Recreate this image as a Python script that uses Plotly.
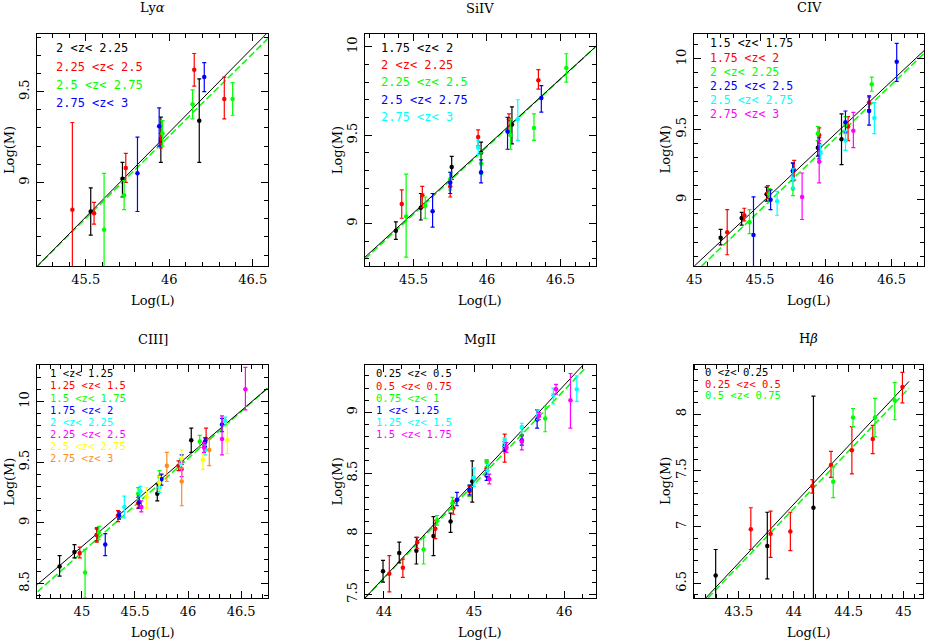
import plotly.graph_objects as go

W, H = 926, 642

BLACK = "#000000"
RED = "#ff0000"
GREEN = "#00ff00"
BLUE = "#0000ff"
CYAN = "#00ffff"
MAGENTA = "#ff00ff"
YELLOW = "#ffff00"
ORANGE = "#ff8c1a"

# ---------------- Ly alpha ----------------
LYA_BINS = ["2 <z< 2.25", "2.25 <z< 2.5", "2.5 <z< 2.75", "2.75 <z< 3"]
LYA_X = [[45.53, 45.72, 45.95, 46.18],
         [45.42, 45.55, 45.74, 45.95, 46.15, 46.33],
         [45.61, 45.73, 45.96, 46.14, 46.38],
         [45.81, 45.94, 46.21]]
LYA_Y = [[8.84, 9.02, 9.23, 9.34],
         [8.85, 8.83, 9.08, 9.24, 9.62, 9.46],
         [8.74, 8.93, 9.27, 9.43, 9.46],
         [9.05, 9.31, 9.58]]
LYA_HI = [[8.97, 9.11, 9.36, 9.57],
          [9.33, 8.89, 9.16, 9.27, 9.71, 9.58],
          [9.05, 9.01, 9.34, 9.51, 9.55],
          [9.25, 9.41, 9.66]]
LYA_LO = [[8.71, 8.92, 9.11, 9.11],
          [8.45, 8.77, 9.00, 9.19, 9.53, 9.35],
          [8.45, 8.85, 9.20, 9.35, 9.37],
          [8.84, 9.20, 9.50]]
LYA_FIT_X = [45.2, 46.6]
LYA_FIT_Y = [8.53, 9.835]
LYA_FIT2_Y = [8.53, 9.80]

# ---------------- SiIV ----------------
SIIV_BINS = ["1.75 <z< 2", "2 <z< 2.25", "2.25 <z< 2.5", "2.5 <z< 2.75", "2.75 <z< 3"]
SIIV_X = [[45.38, 45.55, 45.76, 45.96, 46.17],
          [45.42, 45.56, 45.75, 45.94, 46.15, 46.35],
          [45.45, 45.58, 45.75, 45.96, 46.16, 46.32, 46.54],
          [45.63, 45.75, 45.96, 46.14, 46.37],
          [45.94, 46.21]]
SIIV_Y = [[8.96, 9.09, 9.32, 9.40, 9.56],
          [9.11, 9.16, 9.21, 9.49, 9.59, 9.81],
          [9.04, 9.10, 9.25, 9.34, 9.50, 9.54, 9.88],
          [9.07, 9.23, 9.29, 9.52, 9.71],
          [9.43, 9.59]]
SIIV_HI = [[9.01, 9.17, 9.38, 9.46, 9.66],
           [9.19, 9.21, 9.24, 9.53, 9.62, 9.87],
           [9.28, 9.15, 9.29, 9.40, 9.59, 9.62, 9.96],
           [9.17, 9.29, 9.36, 9.60, 9.78],
           [9.47, 9.70]]
SIIV_LO = [[8.91, 9.02, 9.25, 9.34, 9.45],
           [9.03, 9.09, 9.15, 9.44, 9.51, 9.76],
           [8.81, 9.03, 9.19, 9.28, 9.42, 9.47, 9.80],
           [8.98, 9.17, 9.23, 9.42, 9.63],
           [9.39, 9.47]]
SIIV_FIT_X = [45.17, 46.74]
SIIV_FIT_Y = [8.81, 10.0]
SIIV_FIT2_Y = [8.80, 10.0]

# ---------------- CIV ----------------
CIV_BINS = ["1.5 <z< 1.75", "1.75 <z< 2", "2 <z< 2.25", "2.25 <z< 2.5",
            "2.5 <z< 2.75", "2.75 <z< 3"]
CIV_X = [[45.20, 45.36, 45.55, 45.75, 45.94, 46.12],
         [45.25, 45.38, 45.56, 45.76, 45.95, 46.17, 46.33],
         [45.42, 45.57, 45.75, 45.94, 46.15, 46.35],
         [45.45, 45.58, 45.75, 45.95, 46.15, 46.33, 46.54],
         [45.63, 45.75, 45.96, 46.15, 46.37],
         [45.82, 45.95, 46.21]]
CIV_Y = [[8.73, 8.87, 9.04, 9.20, 9.37, 9.43],
         [8.77, 8.89, 9.05, 9.21, 9.46, 9.52, 9.69],
         [8.84, 9.04, 9.08, 9.47, 9.53, 9.82],
         [8.75, 9.00, 9.21, 9.37, 9.55, 9.63, 9.98],
         [8.99, 9.15, 9.33, 9.42, 9.58],
         [9.02, 9.27, 9.49]]
CIV_HI = [[8.79, 8.91, 9.09, 9.26, 9.42, 9.61],
          [8.93, 8.94, 9.10, 9.28, 9.51, 9.59, 9.74],
          [8.93, 9.08, 9.13, 9.52, 9.59, 9.87],
          [9.02, 9.07, 9.26, 9.44, 9.63, 9.73, 10.11],
          [9.06, 9.22, 9.39, 9.49, 9.69],
          [9.19, 9.42, 9.62]]
CIV_LO = [[8.68, 8.82, 8.99, 9.14, 9.31, 9.25],
          [8.61, 8.85, 9.01, 9.14, 9.40, 9.42, 9.64],
          [8.76, 8.99, 9.03, 9.42, 9.47, 9.77],
          [8.45, 8.93, 9.16, 9.29, 9.48, 9.53, 9.84],
          [8.89, 9.08, 9.27, 9.35, 9.47],
          [8.86, 9.12, 9.37]]
CIV_FIT_X = [45.0, 46.75]
CIV_FIT_Y = [8.53, 10.06]
CIV_FIT2_Y = [8.48, 10.04]

# ---------------- CIII] ----------------
CIII_BINS = ["1 <z< 1.25", "1.25 <z< 1.5", "1.5 <z< 1.75", "1.75 <z< 2",
             "2 <z< 2.25", "2.25 <z< 2.5", "2.5 <z< 2.75", "2.75 <z< 3"]
CIII_X = [[44.79, 44.93, 45.14, 45.71, 46.03],
          [44.98, 45.14, 45.34, 45.53, 45.91, 46.17],
          [45.03, 45.16, 45.53, 45.73, 46.11],
          [45.22, 45.35, 45.54, 45.75, 45.94, 46.16, 46.32],
          [45.40, 45.55, 45.73, 45.93, 46.16, 46.35],
          [45.56, 45.94, 46.15, 46.32, 46.54],
          [45.61, 45.73, 45.94, 46.14, 46.37],
          [45.80, 45.94, 46.20]]
CIII_Y = [[8.64, 8.76, 8.90, 9.24, 9.68],
          [8.75, 8.90, 9.06, 9.16, 9.47, 9.69],
          [8.59, 8.92, 9.24, 9.38, 9.67],
          [8.82, 9.06, 9.17, 9.36, 9.52, 9.67, 9.81],
          [9.13, 9.26, 9.29, 9.49, 9.60, 9.84],
          [9.13, 9.44, 9.62, 9.69, 10.10],
          [9.21, 9.33, 9.53, 9.52, 9.68],
          [9.47, 9.34, 9.60]]
CIII_HI = [[8.73, 8.82, 8.95, 9.32, 9.78],
           [8.80, 8.96, 9.10, 9.21, 9.51, 9.78],
           [8.78, 8.97, 9.29, 9.43, 9.72],
           [8.91, 9.09, 9.22, 9.40, 9.56, 9.70, 9.86],
           [9.22, 9.30, 9.33, 9.53, 9.64, 9.87],
           [9.18, 9.50, 9.66, 9.88, 10.28],
           [9.29, 9.38, 9.60, 9.57, 9.82],
           [9.58, 9.45, 9.69]]
CIII_LO = [[8.56, 8.71, 8.85, 9.18, 9.58],
           [8.71, 8.84, 9.01, 9.12, 9.43, 9.60],
           [8.38, 8.86, 9.19, 9.34, 9.62],
           [8.73, 9.03, 9.12, 9.31, 9.48, 9.63, 9.75],
           [9.04, 9.22, 9.25, 9.45, 9.56, 9.80],
           [9.09, 9.38, 9.58, 9.56, 9.93],
           [9.12, 9.27, 9.47, 9.44, 9.57],
           [9.34, 9.14, 9.47]]
CIII_FIT_X = [44.58, 46.75]
CIII_FIT_Y = [8.49, 10.11]
CIII_FIT2_Y = [8.43, 10.11]

# ---------------- MgII ----------------
MGII_BINS = ["0.25 <z< 0.5", "0.5 <z< 0.75", "0.75 <z< 1", "1 <z< 1.25",
             "1.25 <z< 1.5", "1.5 <z< 1.75"]
MGII_X = [[43.99, 44.17, 44.36, 44.55, 44.74, 44.98],
          [44.06, 44.21, 44.37, 44.57, 44.77, 44.95, 45.14, 45.34],
          [44.44, 44.59, 44.76, 44.95, 45.14, 45.34, 45.53, 45.79],
          [44.81, 44.95, 45.14, 45.34, 45.53, 45.70],
          [45.00, 45.15, 45.34, 45.53, 45.71, 45.88, 46.14],
          [45.17, 45.36, 45.53, 45.72, 45.91, 46.07]]
MGII_Y = [[7.69, 7.84, 7.86, 7.98, 8.10, 8.43],
          [7.67, 7.72, 7.93, 8.04, 8.21, 8.35, 8.54, 8.70],
          [7.87, 8.11, 8.25, 8.36, 8.59, 8.74, 8.81, 8.95],
          [8.28, 8.36, 8.48, 8.72, 8.77, 8.94],
          [8.46, 8.52, 8.76, 8.88, 8.98, 9.14, 9.19],
          [8.45, 8.71, 8.76, 8.97, 9.19, 9.10]]
MGII_HI = [[7.78, 7.93, 7.97, 8.14, 8.17, 8.60],
           [7.82, 7.79, 7.97, 8.11, 8.27, 8.39, 8.60, 8.82],
           [7.97, 8.15, 8.30, 8.40, 8.61, 8.78, 8.87, 9.05],
           [8.34, 8.40, 8.52, 8.76, 8.81, 9.02],
           [8.54, 8.57, 8.79, 8.91, 9.02, 9.20, 9.30],
           [8.49, 8.75, 8.81, 9.00, 9.23, 9.32]]
MGII_LO = [[7.60, 7.76, 7.75, 7.82, 8.01, 8.26],
           [7.52, 7.64, 7.88, 7.96, 8.16, 8.31, 8.47, 8.59],
           [7.75, 8.07, 8.20, 8.31, 8.55, 8.70, 8.75, 8.84],
           [8.23, 8.32, 8.44, 8.68, 8.73, 8.87],
           [8.39, 8.48, 8.72, 8.84, 8.94, 9.07, 9.09],
           [8.41, 8.67, 8.69, 8.94, 9.15, 8.87]]
MGII_FIT_X = [43.79, 46.21]
MGII_FIT_Y = [7.47, 9.39]
MGII_FIT2_X = [43.79, 46.23]
MGII_FIT2_Y = [7.47, 9.36]

# ---------------- H beta ----------------
HB_BINS = ["0 <z< 0.25", "0.25 <z< 0.5", "0.5 <z< 0.75"]
HB_X = [[43.29, 43.76, 44.18],
        [43.61, 43.79, 43.97, 44.17, 44.34, 44.53, 44.72, 44.99],
        [44.36, 44.54, 44.74, 44.92]]
HB_Y = [[6.57, 6.83, 7.17],
        [6.98, 6.94, 6.96, 7.36, 7.55, 7.68, 7.78, 8.24],
        [7.40, 7.97, 7.97, 8.12]]
HB_HI = [[6.80, 7.13, 8.16],
         [7.17, 7.14, 7.13, 7.42, 7.67, 7.89, 7.90, 8.37],
         [7.53, 8.05, 8.14, 8.28]]
HB_LO = [[6.33, 6.54, 6.20],
         [6.80, 6.73, 6.79, 7.30, 7.44, 7.47, 7.65, 8.10],
         [7.26, 7.89, 7.80, 7.95]]
HB_FIT_X = [43.2, 45.05]
HB_FIT_Y = [6.37, 8.29]
HB_FIT2_X = [43.22, 45.05]
HB_FIT2_Y = [6.37, 8.23]

COLORS = [BLACK, RED, GREEN, BLUE, CYAN, MAGENTA, YELLOW, ORANGE]


def px(x):
    # window pixel -> paper fraction
    return x / W


def py(y):
    return 1 - y / H


# frame boxes in pixels (left, right, top, bottom); leg = (x, first line y, line step, font size)
panels = [
    dict(title="Ly<i>α</i>", box=(37.3, 267.7, 33.5, 266), xr=[45.21, 46.59], yr=[8.54, 9.82],
         xd=0.5, xm=0.1, bins=LYA_BINS, x=LYA_X, y=LYA_Y, hi=LYA_HI, lo=LYA_LO,
         fx=LYA_FIT_X, fy=LYA_FIT_Y, gx=LYA_FIT_X, gy=LYA_FIT2_Y, leg=(55, 48.3, 18.3, 12)),
    dict(title="SiIV", box=(365, 595.7, 34.3, 266), xr=[45.17, 46.74], yr=[8.76, 10.07],
         xd=0.5, xm=0.1, bins=SIIV_BINS, x=SIIV_X, y=SIIV_Y, hi=SIIV_HI, lo=SIIV_LO,
         fx=SIIV_FIT_X, fy=SIIV_FIT_Y, gx=SIIV_FIT_X, gy=SIIV_FIT2_Y, leg=(380, 47.7, 17.4, 12)),
    dict(title="CIV", box=(693.7, 924.3, 33.5, 266), xr=[44.995, 46.75], yr=[8.53, 10.18],
         xd=0.5, xm=0.1, bins=CIV_BINS, x=CIV_X, y=CIV_Y, hi=CIV_HI, lo=CIV_LO,
         fx=CIV_FIT_X, fy=CIV_FIT_Y, gx=CIV_FIT_X, gy=CIV_FIT2_Y, leg=(708.7, 43.3, 14.2, 11.5)),
    dict(title="CIII]", box=(37.3, 267.7, 365, 598), xr=[44.58, 46.75], yr=[8.38, 10.30],
         xd=0.5, xm=0.1, bins=CIII_BINS, x=CIII_X, y=CIII_Y, hi=CIII_HI, lo=CIII_LO,
         fx=CIII_FIT_X, fy=CIII_FIT_Y, gx=CIII_FIT_X, gy=CIII_FIT2_Y, leg=(49.3, 373.3, 12.1, 10.5)),
    dict(title="MgII", box=(365, 595.7, 365, 598), xr=[43.79, 46.35], yr=[7.47, 9.39],
         xd=1, xm=0.2, bins=MGII_BINS, x=MGII_X, y=MGII_Y, hi=MGII_HI, lo=MGII_LO,
         fx=MGII_FIT_X, fy=MGII_FIT_Y, gx=MGII_FIT2_X, gy=MGII_FIT2_Y, leg=(375, 373.3, 12.2, 10.5)),
    dict(title="H<i>β</i>", box=(693.7, 923.3, 364.5, 598), xr=[43.09, 45.18], yr=[6.37, 8.44],
         xd=0.5, xm=0.1, bins=HB_BINS, x=HB_X, y=HB_Y, hi=HB_HI, lo=HB_LO,
         fx=HB_FIT_X, fy=HB_FIT_Y, gx=HB_FIT2_X, gy=HB_FIT2_Y, leg=(704.3, 372.3, 11.3, 10.5)),
]

fig = go.Figure()
annotations = []
layout = {}
serif = "DejaVu Serif"
mono = "DejaVu Sans Mono"

for i, p in enumerate(panels, start=1):
    sfx = "" if i == 1 else str(i)
    xa, ya = "x" + sfx, "y" + sfx
    l, r, t, b = p["box"]

    axis_common = dict(
        showline=True, linecolor="black", linewidth=1, mirror="allticks",
        ticks="inside", ticklen=7, tickcolor="black", tickwidth=1,
        showgrid=False, zeroline=False, automargin=False,
        tickfont=dict(family=serif, size=13, color="black"),
    )
    layout["xaxis" + sfx] = dict(
        axis_common, domain=[px(l), px(r)], range=p["xr"], anchor=ya, dtick=p["xd"],
        minor=dict(ticks="inside", ticklen=4, dtick=p["xm"], tickcolor="black"),
        ticklabelstandoff=1,
    )
    layout["yaxis" + sfx] = dict(
        axis_common, domain=[py(b), py(t)], range=p["yr"], anchor=xa, dtick=0.5,
        minor=dict(ticks="inside", ticklen=4, dtick=0.1, tickcolor="black"),
        tickangle=-90, ticklabelstandoff=2,
    )

    # fitted relations
    fig.add_trace(go.Scatter(
        x=p["gx"], y=p["gy"], mode="lines", xaxis=xa, yaxis=ya,
        line=dict(color=GREEN, width=1.5, dash="7px,3px"), showlegend=False,
    ))
    fig.add_trace(go.Scatter(
        x=p["fx"], y=p["fy"], mode="lines", xaxis=xa, yaxis=ya,
        line=dict(color=BLACK, width=1), showlegend=False,
    ))

    lx, ly, dy, fs = p["leg"]
    for k, label in enumerate(p["bins"]):
        col = COLORS[k]
        xs, ys, hi, lo = p["x"][k], p["y"][k], p["hi"][k], p["lo"][k]
        fig.add_trace(go.Scatter(
            x=xs, y=ys, mode="markers", xaxis=xa, yaxis=ya, name=label,
            marker=dict(color=col, size=4.5),
            error_y=dict(type="data", symmetric=False,
                         array=[h - v for h, v in zip(hi, ys)],
                         arrayminus=[v - q for v, q in zip(ys, lo)],
                         color=col, thickness=1.2, width=2),
            showlegend=False,
        ))
        annotations.append(dict(
            x=px(lx), y=py(ly + k * dy), xref="paper", yref="paper",
            text=label, showarrow=False, xanchor="left", yanchor="middle",
            font=dict(family=mono, size=fs, color=col),
            borderpad=0,
        ))

    cx = (l + r) / 2
    annotations.append(dict(
        x=px(cx), y=py(t - 26), xref="paper", yref="paper", text=p["title"],
        showarrow=False, xanchor="center", yanchor="middle",
        font=dict(family=serif, size=13, color="black"), borderpad=0,
    ))
    annotations.append(dict(
        x=px(cx), y=py(b + 34), xref="paper", yref="paper", text="Log(L)",
        showarrow=False, xanchor="center", yanchor="middle",
        font=dict(family=serif, size=13, color="black"), borderpad=0,
    ))
    annotations.append(dict(
        x=px(l - 28), y=py((t + b) / 2), xref="paper", yref="paper", text="Log(M)",
        showarrow=False, xanchor="center", yanchor="middle", textangle=-90,
        font=dict(family=serif, size=13, color="black"), borderpad=0,
    ))

fig.update_layout(
    **layout,
    annotations=annotations,
    width=W, height=H,
    margin=dict(l=0, r=0, t=0, b=0),
    paper_bgcolor="white", plot_bgcolor="white",
    showlegend=False,
)

# drop the default page margin so the figure fills the window exactly
fig.write_html(
    "out.html",
    config={"displayModeBar": False},
    post_script="document.body.style.margin='0';",
)
